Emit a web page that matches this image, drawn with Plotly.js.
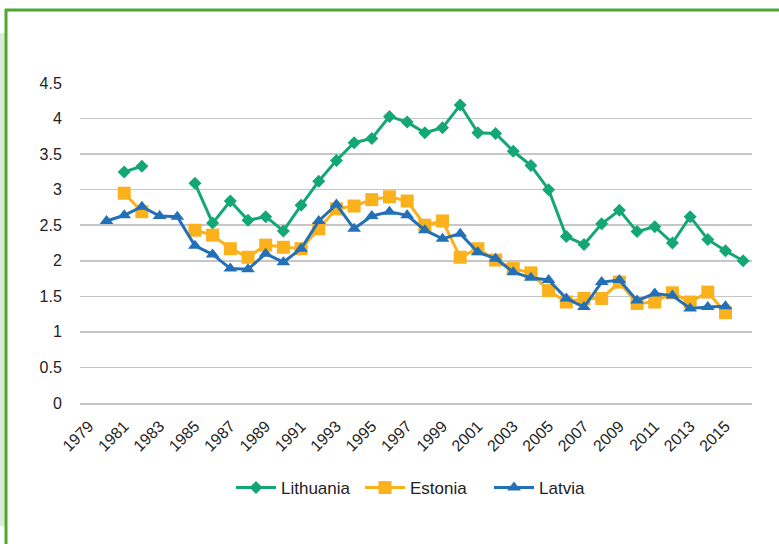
<!DOCTYPE html>
<html>
<head>
<meta charset="utf-8">
<script src="https://cdn.plot.ly/plotly-3.0.1.min.js"></script>
<style>
html,body{margin:0;padding:0;background:#fff;}
#chart{width:779px;height:544px;}
</style>
</head>
<body>
<div id="chart"></div>
<script>
var years = ["1979","1980","1981","1982","1983","1984","1985","1986","1987","1988","1989","1990","1991","1992","1993","1994","1995","1996","1997","1998","1999","2000","2001","2002","2003","2004","2005","2006","2007","2008","2009","2010","2011","2012","2013","2014","2015","2016"];
var tickYears = ["1979","1981","1983","1985","1987","1989","1991","1993","1995","1997","1999","2001","2003","2005","2007","2009","2011","2013","2015"];
var lithuania = [null,null,3.25,3.33,null,null,3.09,2.53,2.84,2.57,2.62,2.42,2.78,3.12,3.41,3.66,3.72,4.03,3.95,3.80,3.87,4.19,3.80,3.79,3.54,3.34,3.00,2.34,2.23,2.52,2.71,2.41,2.48,2.25,2.62,2.30,2.14,2.00];
var estonia = [null,null,2.95,2.69,null,null,2.43,2.36,2.17,2.05,2.22,2.19,2.17,2.45,2.73,2.77,2.86,2.90,2.84,2.50,2.56,2.05,2.17,2.01,1.89,1.83,1.58,1.42,1.47,1.47,1.70,1.40,1.42,1.55,1.42,1.56,1.27,null];
var latvia = [null,2.56,2.64,2.76,2.63,2.62,2.21,2.09,1.89,1.88,2.10,1.98,2.17,2.56,2.79,2.45,2.63,2.69,2.64,2.43,2.31,2.38,2.12,2.03,1.84,1.76,1.73,1.47,1.35,1.70,1.73,1.44,1.54,1.51,1.33,1.35,1.36,null];
var seriesNames = ["Lithuania","Estonia","Latvia"];

var FONT = "Liberation Sans, Arial, sans-serif";
var cGreen = "#13a775", cOrange = "#fbb11c", cBlue = "#2470b7";

var traces = [
  {x: years, y: lithuania, name: seriesNames[0], type: "scatter", mode: "lines+markers",
   line: {color: cGreen, width: 3}, marker: {symbol: "diamond", size: 10, color: cGreen}, connectgaps: false},
  {x: years, y: estonia, name: seriesNames[1], type: "scatter", mode: "lines+markers",
   line: {color: cOrange, width: 3}, marker: {symbol: "square", size: 13, color: cOrange}, connectgaps: false},
  {x: years, y: latvia, name: seriesNames[2], type: "scatter", mode: "lines+markers",
   line: {color: cBlue, width: 3}, marker: {symbol: "triangle-up", size: 12, color: cBlue}, connectgaps: false}
];

// paper-coordinate helpers (plot area: x 80..752, y 83..403 px)
function px(v){ return (v - 80) / 672; }
function py(v){ return (403 - v) / 320; }

var layout = {
  width: 779, height: 544,
  margin: {l: 80, r: 27, t: 83, b: 141},
  paper_bgcolor: "#ffffff", plot_bgcolor: "#ffffff",
  font: {family: FONT, size: 16, color: "#222222"},
  showlegend: true,
  legend: {orientation: "h", x: px(231), xanchor: "left", y: py(488), yanchor: "middle",
           itemwidth: 40, entrywidth: 74, entrywidthmode: "pixels",
           font: {family: FONT, size: 17, color: "#222222"}, bgcolor: "rgba(0,0,0,0)"},
  xaxis: {type: "category", categoryorder: "array", categoryarray: years,
          range: [-0.5, years.length - 0.5],
          tickmode: "array", tickvals: tickYears, ticktext: tickYears,
          tickangle: -45, showgrid: false, zeroline: false,
          showline: true, linecolor: "#c6c6c6", linewidth: 1.5,
          ticks: "outside", ticklen: 6, tickcolor: "rgba(0,0,0,0)",
          tickfont: {family: FONT, size: 16, color: "#222222"}, fixedrange: true},
  yaxis: {range: [0, 4.5], dtick: 0.5, tick0: 0, showgrid: true, gridcolor: "#c6c6c6", gridwidth: 1.5,
          zeroline: false, showline: false,
          ticks: "outside", ticklen: 14, tickcolor: "rgba(0,0,0,0)",
          tickfont: {family: FONT, size: 16, color: "#222222"}, fixedrange: true},
  shapes: [
    {type: "rect", xref: "paper", yref: "paper", x0: px(0), x1: px(5), y0: py(526), y1: py(33),
     fillcolor: "#dcebd8", line: {width: 0}, layer: "below"},
    {type: "line", xref: "paper", yref: "paper", x0: px(6), x1: px(6), y0: py(546), y1: py(9),
     line: {color: "#4ea72e", width: 3}},
    {type: "line", xref: "paper", yref: "paper", x0: px(5), x1: px(781), y0: py(10), y1: py(10),
     line: {color: "#4ea72e", width: 3}}
  ]
};

Plotly.newPlot("chart", traces, layout, {displayModeBar: false, staticPlot: true});
</script>
</body>
</html>
